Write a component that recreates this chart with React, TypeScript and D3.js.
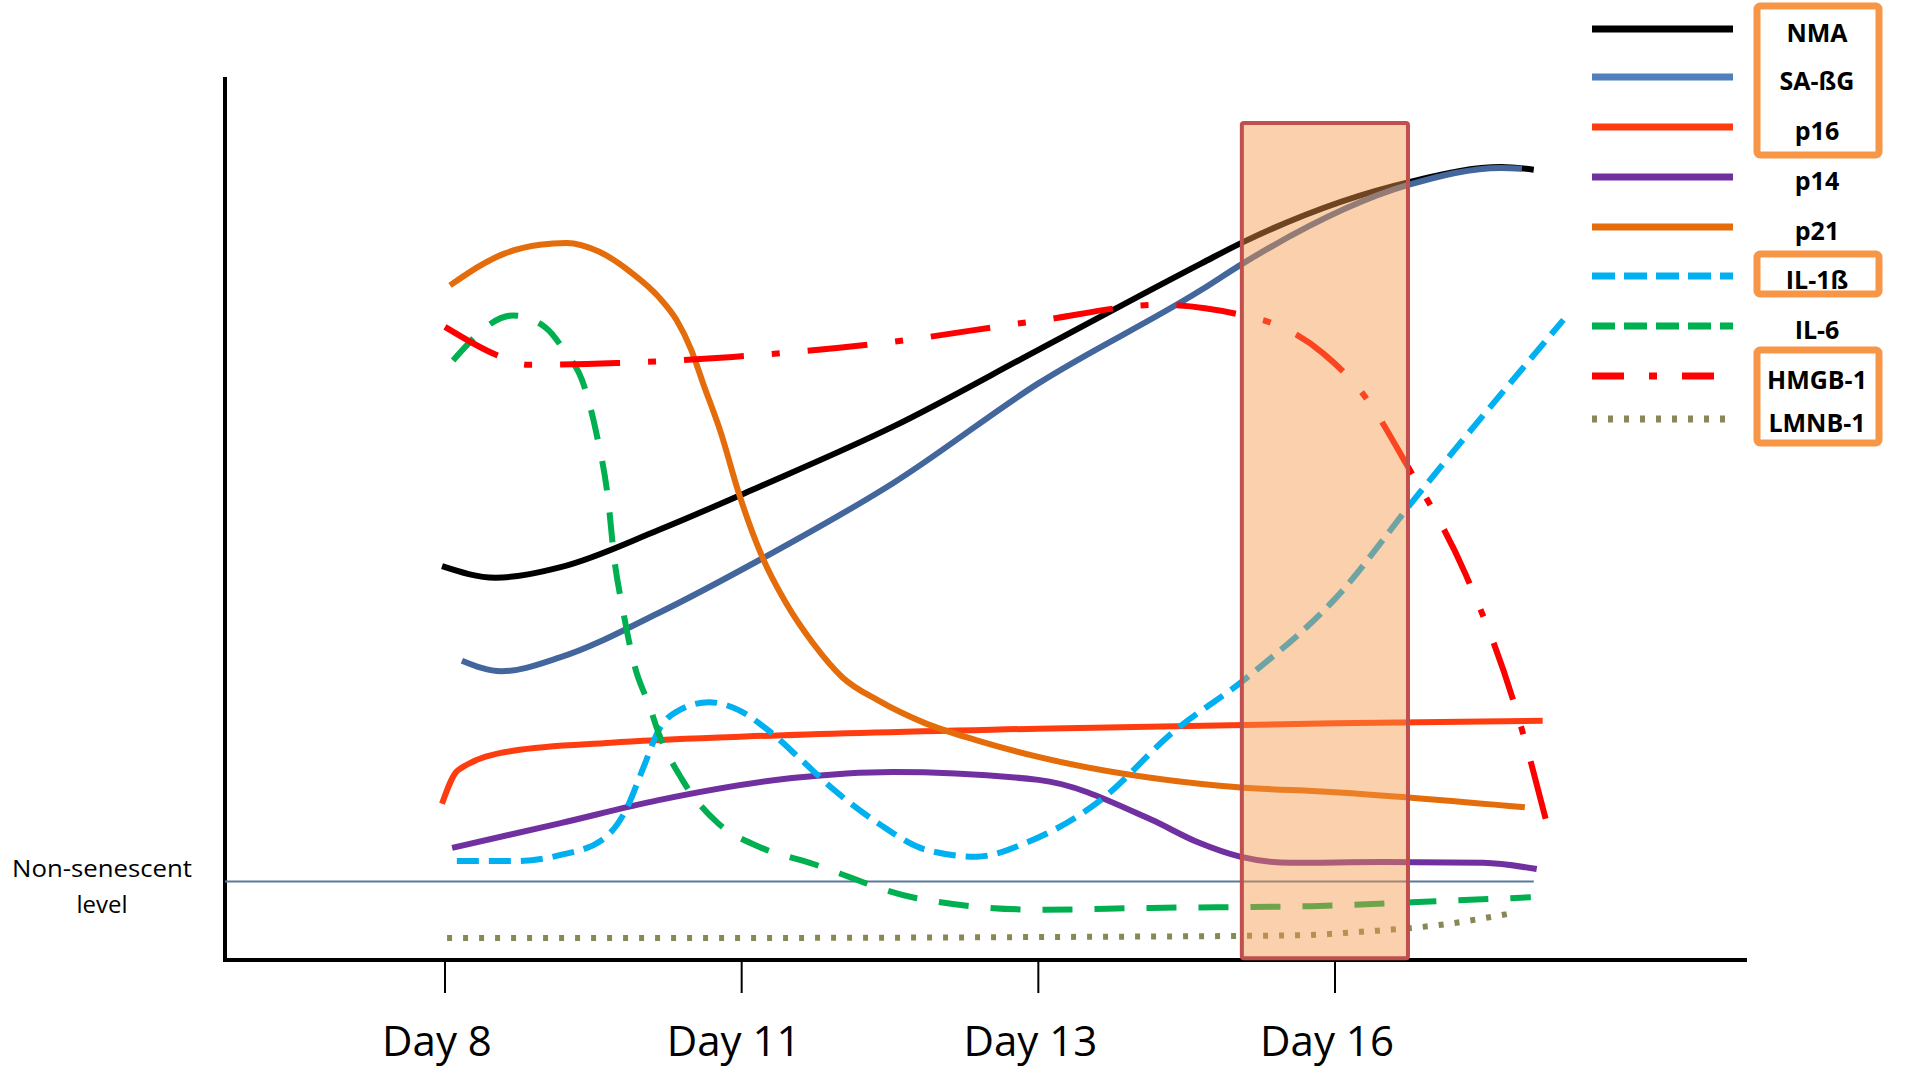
import { line, curveMonotoneX, scaleLinear } from "d3";

// x = position along the day axis (0 = Day 8, 1 = Day 11, 2 = Day 13, 3 = Day 16), y = relative level
const dayLabels = ["Day 8", "Day 11", "Day 13", "Day 16"];
const nonSenescentLevel = 8.9;

const nma = [
    [-0.01, 44.6], [0.17, 43.3], [0.39, 44.5], [0.72, 48.7], [1.06, 53.6], [1.51, 60.4],
    [2.0, 69.1], [2.55, 78.9], [2.69, 81.3], [3.25, 88.1], [3.56, 89.8], [3.67, 89.5],
];
const saBG = [
    [0.057, 33.9], [0.19, 32.7], [0.39, 34.3], [0.72, 39.3], [1.06, 45.3], [1.51, 54.0],
    [2.0, 65.3], [2.55, 75.9], [2.69, 78.9], [3.25, 87.8], [3.56, 89.7], [3.63, 89.6],
];
const p16 = [
    [-0.01, 17.7], [0.044, 21.5], [0.23, 23.7], [0.56, 24.6], [1.01, 25.3], [2.0, 26.2],
    [3.0, 26.8], [3.7, 27.1],
];
const p14 = [
    [0.024, 12.7], [0.39, 15.5], [0.72, 18.1], [1.17, 20.6], [1.51, 21.3], [2.0, 20.4],
    [2.38, 15.9], [2.54, 13.3], [2.68, 11.7], [2.85, 11.0], [3.16, 11.1], [3.5, 11.0], [3.68, 10.3],
];
const p21 = [
    [0.017, 76.4], [0.2, 80.0], [0.32, 81.0], [0.41, 81.2], [0.52, 80.2], [0.63, 77.8],
    [0.72, 75.1], [0.78, 72.5], [0.83, 69.1], [0.87, 65.3], [0.93, 59.7], [0.99, 52.9],
    [1.07, 45.6], [1.15, 40.4], [1.24, 35.9], [1.34, 32.0], [1.46, 29.4], [1.62, 26.8],
    [1.79, 24.9], [2.0, 23.0], [2.62, 19.7], [3.0, 19.0], [3.64, 17.3],
];
const il1b = [
    [0.04, 11.2], [0.23, 11.2], [0.39, 11.9], [0.53, 13.6], [0.61, 17.0], [0.67, 21.9],
    [0.72, 26.0], [0.79, 28.3], [0.89, 29.2], [0.99, 28.3], [1.09, 26.0], [1.2, 22.7],
    [1.31, 19.3], [1.46, 15.5], [1.62, 12.5], [1.79, 11.7], [1.96, 13.3], [2.21, 18.1],
    [2.45, 25.7], [2.7, 31.9], [3.0, 40.9], [3.28, 52.7], [3.77, 72.5],
];
const il6 = [
    [0.027, 67.9], [0.23, 73.0], [0.34, 71.6], [0.4, 69.1], [0.47, 64.9], [0.51, 59.7],
    [0.55, 52.1], [0.57, 45.6], [0.6, 39.6], [0.64, 33.2], [0.69, 28.7], [0.72, 25.7],
    [0.8, 20.4], [0.92, 15.5], [1.06, 12.8], [1.23, 11.0], [1.59, 7.0], [2.0, 5.7],
    [2.38, 5.9], [2.92, 6.1], [3.3, 6.6], [3.66, 7.1],
];
const hmgb1 = [
    [0.0, 71.7], [0.19, 68.3], [0.28, 67.4], [0.58, 67.6], [0.97, 68.3], [1.48, 69.9],
    [2.0, 72.4], [2.41, 74.2], [2.69, 73.0], [2.79, 72.1], [2.96, 68.7], [3.11, 63.4],
    [3.24, 56.2], [3.44, 43.7], [3.61, 28.4], [3.71, 16.0],
];
const lmnb1 = [
    [0.007, 2.5], [1.0, 2.5], [2.0, 2.6], [2.88, 2.8], [3.09, 3.2], [3.36, 4.0], [3.58, 5.2],
];

const seriesNames = ["NMA", "SA-ßG", "p16", "p14", "p21", "IL-1ß", "IL-6", "HMGB-1", "LMNB-1"];
const seriesData = [nma, saBG, p16, p14, p21, il1b, il6, hmgb1, lmnb1];
const seriesColors = ["#000000", "#43669c", "#ff3c10", "#7030a0", "#e46c0a", "#00b0f0", "#00b050", "#ff0000", "#8a8756"];
const legendColors = ["#000000", "#4f7fbd", "#ff3c10", "#7030a0", "#e46c0a", "#00b0f0", "#00b050", "#ff0000", "#8a8756"];
const chartDash = ["", "", "", "", "", "22,10", "30,22", "60,28,8,28", "5,11"];
const legendDash = ["", "", "", "", "", "23,9", "23,9", "32,25,8,25", "5,11"];

// highlighted window around Day 16, in axis units
const highlight = { x0: 2.686, x1: 3.246, top: 94.8, bottom: 0.2 };

export default function App() {
    const xScale = scaleLinear().domain([0, 3]).range([445, 1335]);
    const yScale = scaleLinear().domain([0, 100]).range([960, 77]);
    const axisStart = xScale.invert(225);
    const axisEnd = xScale.invert(1747);

    const path = line<number[]>()
        .x((d) => xScale(d[0]))
        .y((d) => yScale(d[1]))
        .curve(curveMonotoneX);

    const legendRows = [29, 77, 127, 177, 227, 276, 326, 376, 419];
    const legendBoxes = [
        { y0: 6, y1: 155 },
        { y0: 254, y1: 294 },
        { y0: 350, y1: 443 },
    ];

    return (
        <svg
            width={1906}
            height={1073}
            style={{ position: "absolute", left: 0, top: 0, background: "#fff" }}
            fontFamily="'Open Sans', sans-serif"
        >
            {/* axes */}
            <line x1={xScale(axisStart)} x2={xScale(axisStart)} y1={yScale(100)} y2={yScale(0) + 2} stroke="#000" strokeWidth={4} />
            <line x1={xScale(axisStart) - 2} x2={xScale(axisEnd)} y1={yScale(0)} y2={yScale(0)} stroke="#000" strokeWidth={4} />
            {dayLabels.map((label, i) => (
                <g key={label} transform={`translate(${xScale(i)}, ${yScale(0)})`}>
                    <line y1={2} y2={33} stroke="#000" strokeWidth={2} />
                    <text x={-8} y={96} textAnchor="middle" fontSize={42}>
                        {label}
                    </text>
                </g>
            ))}

            {/* non-senescent level */}
            <line
                x1={xScale(axisStart)}
                x2={xScale(3.67)}
                y1={yScale(nonSenescentLevel)}
                y2={yScale(nonSenescentLevel)}
                stroke="#5a7a9c"
                strokeWidth={2}
            />
            <text x={102} y={877} textAnchor="middle" fontSize={24} textLength={180} lengthAdjust="spacingAndGlyphs">
                Non-senescent
            </text>
            <text x={102} y={913} textAnchor="middle" fontSize={24}>
                level
            </text>

            {/* series */}
            {seriesData.map((d, i) => (
                <path
                    key={seriesNames[i]}
                    d={path(d) ?? ""}
                    fill="none"
                    stroke={seriesColors[i]}
                    strokeWidth={6}
                    strokeDasharray={chartDash[i] || undefined}
                />
            ))}

            {/* highlighted window */}
            <rect
                x={xScale(highlight.x0)}
                y={yScale(highlight.top)}
                width={xScale(highlight.x1) - xScale(highlight.x0)}
                height={yScale(highlight.bottom) - yScale(highlight.top)}
                fill="#f79646"
                fillOpacity={0.45}
                stroke="#c0504d"
                strokeWidth={4}
                rx={2}
            />

            {/* legend */}
            {seriesNames.map((name, i) => (
                <g key={`legend-${name}`}>
                    <line
                        x1={1592}
                        x2={1733}
                        y1={legendRows[i]}
                        y2={legendRows[i]}
                        stroke={legendColors[i]}
                        strokeWidth={7}
                        strokeDasharray={legendDash[i] || undefined}
                    />
                    <text x={1817} y={legendRows[i] + 13} textAnchor="middle" fontSize={25} fontWeight="bold">
                        {name}
                    </text>
                </g>
            ))}
            {legendBoxes.map((b, i) => (
                <rect
                    key={`box-${i}`}
                    x={1757}
                    y={b.y0}
                    width={122}
                    height={b.y1 - b.y0}
                    fill="none"
                    stroke="#f79646"
                    strokeWidth={7}
                    rx={3}
                />
            ))}
        </svg>
    );
}
